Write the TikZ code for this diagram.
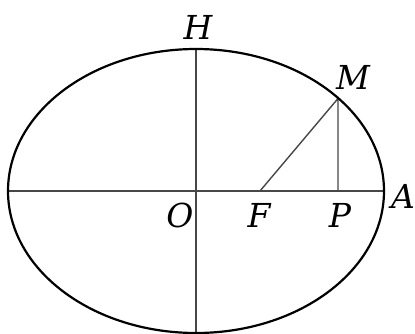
\documentclass[tikz,border=0pt]{standalone}
\usepackage{fontspec}
\setmainfont{DejaVu Serif}
\begin{document}
\begin{tikzpicture}[x=1pt,y=-1pt,
  lbl/.style={inner sep=0pt,font=\fontsize{33}{34}\selectfont\itshape},
  thin line/.style={draw=black!72,line width=1.4pt},
  curve/.style={draw=black,line width=2.2pt}]
\useasboundingbox (0,0) rectangle (415,334);
\coordinate (O) at (196,191);
\coordinate (Lt) at (8,191);
\coordinate (Rt) at (384,191);
\coordinate (Tp) at (196,49);
\coordinate (Bt) at (196,333);
\coordinate (F) at (260,191);
\coordinate (M) at (338,98.5);
\coordinate (P) at (338,191);
\draw[thin line] (Lt) -- (Rt);
\draw[thin line] (Tp) -- (Bt);
\draw[thin line] (F) -- (M) -- (P);
\draw[curve] (O) ellipse [x radius=188, y radius=142];
\node[lbl] (h) at (198,27) {H};
\node[lbl] (m) at (353,77) {M};
\node[lbl] (a) at (403,196) {A};
\node[lbl] (o) at (180,215) {O};
\node[lbl] (f) at (259,215) {F};
\node[lbl] (p) at (340,215) {P};
\end{tikzpicture}
\end{document}
